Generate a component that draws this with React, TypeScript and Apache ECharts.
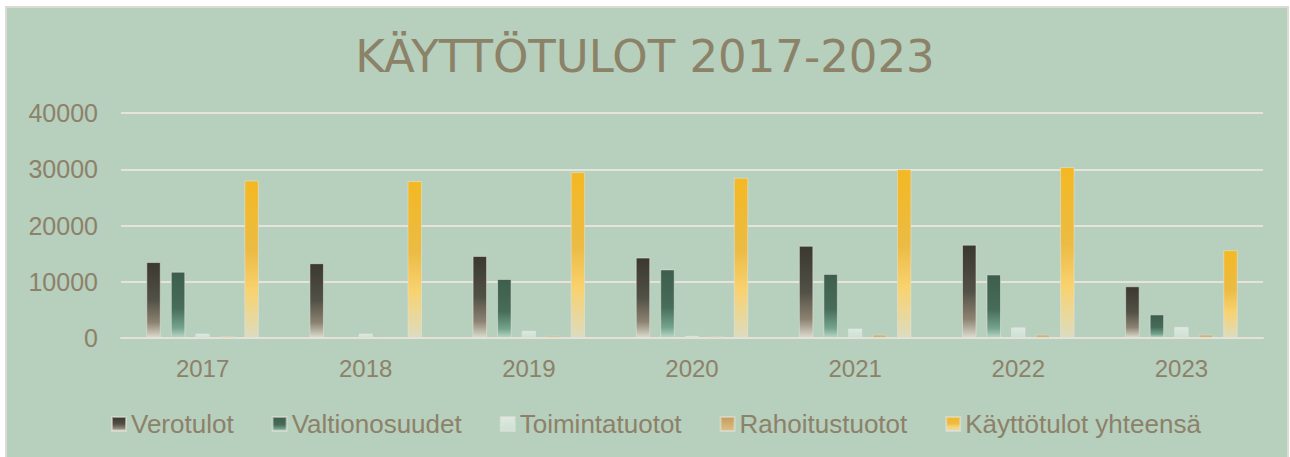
import React, { useEffect, useRef } from "react";
import * as echarts from "echarts";

const categories = ["2017", "2018", "2019", "2020", "2021", "2022", "2023"];
const verotulot = [13500, 13300, 14600, 14300, 16400, 16600, 9200];
const valtionosuudet = [11800, null, 10500, 12200, 11400, 11300, 4200];
const toimintatuotot = [800, 800, 1300, 400, 1700, 1900, 2000];
const rahoitustuotot = [350, 200, 400, 300, 600, 600, 600];
const kayttotulot = [28000, 27900, 29500, 28500, 30000, 30400, 15600];

const TEXT = "#8c8169";
const FONT = "Liberation Sans, Arial, sans-serif";

const grad = (stops: [number, string][]) =>
  new echarts.graphic.LinearGradient(
    0, 0, 0, 1,
    stops.map(([offset, color]) => ({ offset, color }))
  );

export default function App() {
  const ref = useRef<HTMLDivElement>(null);
  useEffect(() => {
    const chart = echarts.init(ref.current!, null, { renderer: "svg" });
    const border = { borderColor: "rgba(230,230,220,0.55)", borderWidth: 1 };
    const mk = (name: string, data: any[], color: any) => ({
      name,
      type: "bar",
      data,
      barGap: "69%",
      barCategoryGap: "31%",
      itemStyle: { color, ...border },
    });
    chart.setOption({
      animation: false,
      backgroundColor: "#ffffff",
      graphic: [
        {
          type: "rect",
          shape: { x: 6, y: 7, width: 1282, height: 452 },
          style: { fill: "#b7cfbd", stroke: "#dcdad3", lineWidth: 2 },
          z: -10,
          silent: true,
        },
      ],
      title: {
        text: "KÄYTTÖTULOT 2017-2023",
        left: "center",
        top: 29,
        textStyle: {
          fontFamily: "DejaVu Sans",
          fontSize: 45,
          fontWeight: "normal",
          color: "#8b8268",
        },
      },
      grid: { left: 121, right: 27, top: 113, bottom: 119, containLabel: false },
      xAxis: {
        type: "category",
        data: categories,
        axisLine: { show: true, lineStyle: { color: "#e4e2d8", width: 2 } },
        axisTick: { show: false },
        axisLabel: { color: TEXT, fontSize: 24, fontFamily: FONT, margin: 18 },
      },
      yAxis: {
        type: "value",
        min: 0,
        max: 40000,
        interval: 10000,
        axisLine: { show: false },
        axisTick: { show: false },
        axisLabel: {
          color: TEXT,
          fontSize: 25,
          fontFamily: FONT,
          margin: 23,
          formatter: (v: number) => String(v),
        },
        splitLine: { lineStyle: { color: "#e6e4da", width: 2 } },
      },
      legend: {
        left: 106,
        top: 406,
        itemWidth: 14,
        itemHeight: 14,
        itemGap: 38,
        icon: "rect",
        textStyle: { color: TEXT, fontSize: 26, fontFamily: FONT },
      },
      series: [
        mk("Verotulot", verotulot, grad([[0, "#3a382f"], [0.5, "#525146"], [0.8, "#8c8272"], [1, "#dbdbcd"]])),
        mk("Valtionosuudet", valtionosuudet, grad([[0, "#3d5e4c"], [0.55, "#476c59"], [0.85, "#74a38d"], [1, "#b8d7c5"]])),
        mk("Toimintatuotot", toimintatuotot, grad([[0, "#dde9e1"], [1, "#cde0d3"]])),
        mk("Rahoitustuotot", rahoitustuotot, grad([[0, "#c59d58"], [1, "#dcc08a"]])),
        mk("Käyttötulot yhteensä", kayttotulot, grad([[0, "#f4b822"], [0.45, "#ebbb44"], [0.7, "#f9d26f"], [1, "#dcdcbf"]])),
      ],
    });
    return () => chart.dispose();
  }, []);
  return (
    <div
      ref={ref}
      style={{ position: "absolute", left: 0, top: 0, width: 1290, height: 457 }}
    />
  );
}
